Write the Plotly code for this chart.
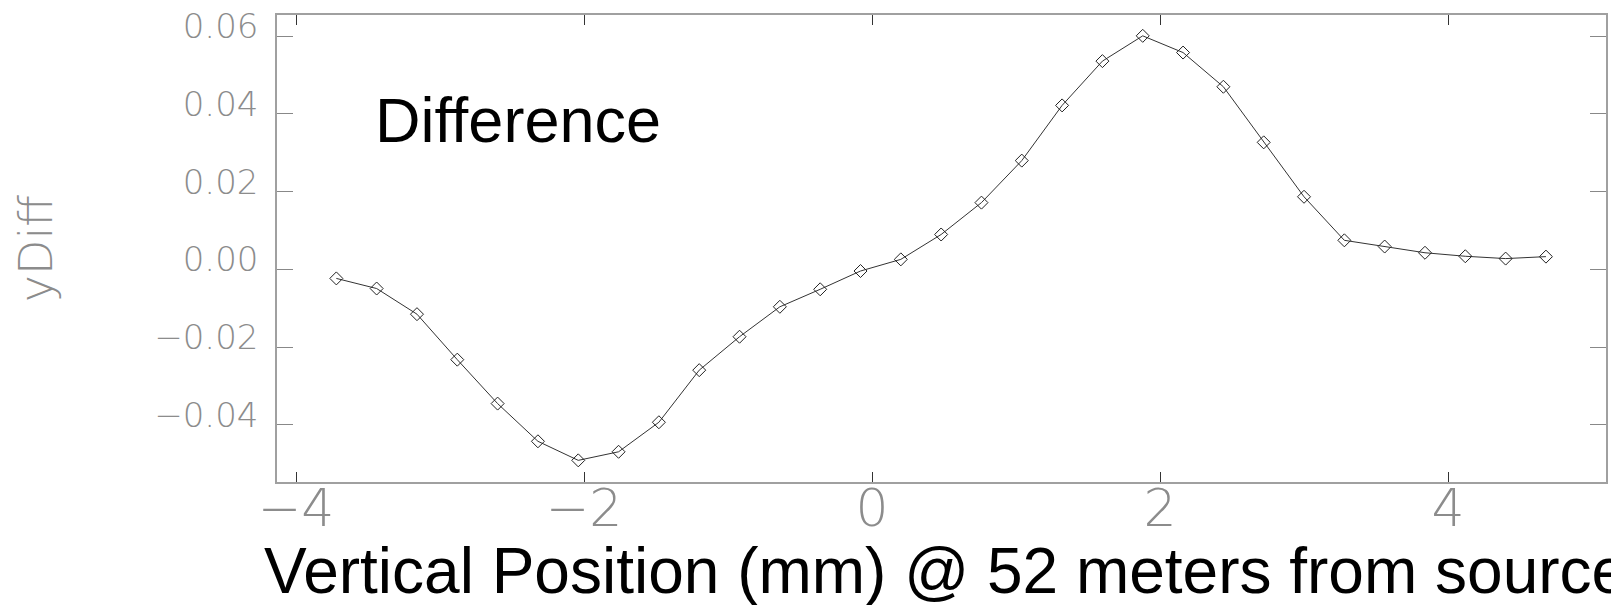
import plotly.graph_objects as go

# Data
x_pos = [-3.72, -3.44, -3.16, -2.88, -2.60, -2.32, -2.04, -1.76, -1.48, -1.20,
         -0.92, -0.64, -0.36, -0.08, 0.20, 0.48, 0.76, 1.04, 1.32, 1.60,
         1.88, 2.16, 2.44, 2.72, 3.00, 3.28, 3.56, 3.84, 4.12, 4.40, 4.68]
y_diff = [-0.0023, -0.0049, -0.0115, -0.0232, -0.0345, -0.0442, -0.0491, -0.0469, -0.0393, -0.0259,
          -0.0173, -0.0096, -0.0051, -0.0004, 0.0026, 0.0090, 0.0172, 0.0280, 0.0422, 0.0536,
          0.0601, 0.0558, 0.0470, 0.0327, 0.0187, 0.0075, 0.0059, 0.0043, 0.0034, 0.0028,
          0.0033]

x_ticks = [-4, -2, 0, 2, 4]
y_ticks = [-0.04, -0.02, 0.00, 0.02, 0.04, 0.06]
y_tick_text = ["−0.04", "−0.02", "0.00", "0.02", "0.04", "0.06"]

title_text = "Difference"
x_title = "Vertical Position (mm) @ 52 meters from source"
y_title = "yDiff"

fig = go.Figure()
fig.add_trace(go.Scatter(
    x=x_pos, y=y_diff, mode="lines+markers",
    line=dict(color="#333333", width=1),
    marker=dict(symbol="diamond-open", size=10, color="#222222",
                line=dict(width=1, color="#222222")),
    showlegend=False,
))

tick_font_y = dict(family="DejaVu Sans", size=34, color="#8c8c8c", weight=200)
tick_font_x = dict(family="DejaVu Sans", size=52, color="#8c8c8c", weight=200)

fig.update_layout(
    width=1611, height=605,
    margin=dict(l=277, r=5, t=15, b=123, autoexpand=False),
    paper_bgcolor="white", plot_bgcolor="white",
    xaxis=dict(
        range=[-4.132, 5.097], tickvals=x_ticks, automargin=False,
        ticks="inside", ticklen=10, tickwidth=1, tickcolor="#333333",
        showline=True, linecolor="#a0a0a0", linewidth=1.5, mirror="ticks",
        showgrid=False, zeroline=False, tickfont=tick_font_x,
        ticklabelstandoff=-20,
    ),
    yaxis=dict(
        range=[-0.05467, 0.06546], tickvals=y_ticks, ticktext=y_tick_text,
        automargin=False,
        ticks="inside", ticklen=16, tickwidth=1, tickcolor="#888888",
        showline=True, linecolor="#a0a0a0", linewidth=1.5, mirror="ticks",
        showgrid=False, zeroline=False, tickfont=tick_font_y,
        ticklabelstandoff=10, ticklabelshift=-10,
    ),
    annotations=[
        dict(text=title_text, xref="paper", yref="paper", x=0.0722, y=0.776,
             xanchor="left", yanchor="middle", showarrow=False,
             font=dict(family="Liberation Sans", size=63, color="black")),
        dict(text=x_title, xref="paper", yref="paper", x=-0.0113, y=-0.1913,
             xanchor="left", yanchor="middle", showarrow=False,
             font=dict(family="Liberation Sans", size=64, color="black")),
        dict(text=y_title, xref="paper", yref="paper", x=-0.1813, y=0.4986,
             xanchor="center", yanchor="middle", showarrow=False, textangle=-90,
             font=dict(family="DejaVu Sans", size=46, color="#8c8c8c", weight=200)),
    ],
)

fig.write_html("out.html", config={"displayModeBar": False},
               post_script="document.body.style.margin='0';document.body.style.overflow='hidden';")
